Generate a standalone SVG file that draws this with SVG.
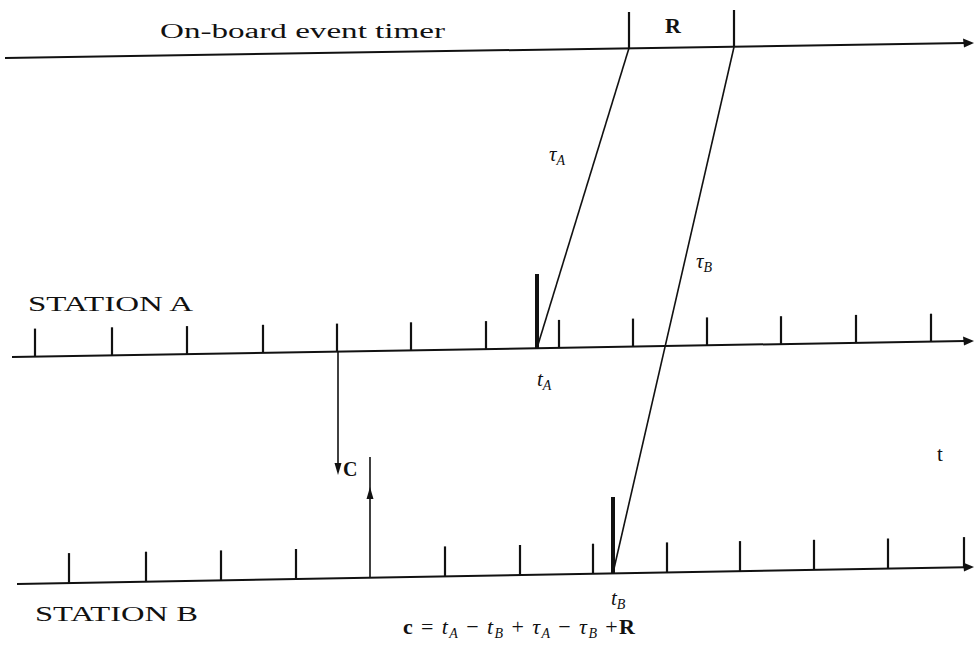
<svg xmlns="http://www.w3.org/2000/svg" width="974" height="659" viewBox="0 0 974 659">
<style>
.ln{stroke:#111;stroke-width:2;fill:none}
.tk{stroke:#111;stroke-width:2.2}
.thk{stroke:#111;stroke-width:4}
.dg{stroke:#111;stroke-width:1.6}
.lbl{fill:#111}
.it{font-style:italic}
.ah{fill:#111}
</style>
<rect width="974" height="659" fill="#fff"/>
<g id="connectors">
<line class="ln" x1="5" y1="58" x2="966" y2="43"/>
<polygon class="ah" points="974,43 963,38.5 964,47.5"/>
<line class="tk" x1="629" y1="12" x2="629" y2="48"/>
<line class="tk" x1="734" y1="10" x2="734" y2="47"/>
<line class="dg" x1="629" y1="48" x2="537" y2="348"/>
<line class="dg" x1="734" y1="47" x2="613" y2="573"/>
<line class="dg" x1="338" y1="351" x2="338" y2="468"/>
<polygon class="ah" points="338,475 334.5,463 341.5,463"/>
<line class="dg" x1="370" y1="457" x2="370" y2="578"/>
<polygon class="ah" points="370,487 366.5,499 373.5,499"/>
</g>
<g font-family="Liberation Serif, DejaVu Serif, serif">
<g id="onboard">
<text class="lbl" x="160" y="38" font-size="20" textLength="285" lengthAdjust="spacingAndGlyphs">On-board event timer</text>
<text class="lbl" x="665" y="33" font-size="22" font-weight="bold">R</text>
</g>
<g id="stationA">
<line class="ln" x1="12" y1="357" x2="965" y2="341"/>
<polygon class="ah" points="974,341 963,336.5 964,345.5"/>
<g class="tk">
<line x1="35" y1="356.6" x2="35" y2="328.6"/>
<line x1="112" y1="355.3" x2="112" y2="327.3"/>
<line x1="187" y1="354.1" x2="187" y2="326.1"/>
<line x1="263" y1="352.8" x2="263" y2="324.8"/>
<line x1="337" y1="351.6" x2="337" y2="323.6"/>
<line x1="411" y1="350.3" x2="411" y2="322.3"/>
<line x1="486" y1="349.1" x2="486" y2="321.1"/>
<line x1="559" y1="347.9" x2="559" y2="319.9"/>
<line x1="633" y1="346.6" x2="633" y2="318.6"/>
<line x1="707" y1="345.4" x2="707" y2="317.4"/>
<line x1="781" y1="344.2" x2="781" y2="316.2"/>
<line x1="856" y1="342.9" x2="856" y2="314.9"/>
<line x1="931" y1="341.7" x2="931" y2="313.7"/>
</g>
<line class="thk" x1="537" y1="274" x2="537" y2="348"/>
<text class="lbl" x="28" y="311" font-size="22" textLength="165" lengthAdjust="spacingAndGlyphs">STATION A</text>
<text class="lbl it" x="537" y="386" font-size="21">t<tspan font-size="14" dy="4">A</tspan></text>
</g>
<g id="stationB">
<line class="ln" x1="17" y1="584" x2="965" y2="567.2"/>
<polygon class="ah" points="974,567 963,562.5 964,571.5"/>
<g class="tk">
<line x1="69" y1="583.1" x2="69" y2="553.1"/>
<line x1="146" y1="581.7" x2="146" y2="551.7"/>
<line x1="221" y1="580.4" x2="221" y2="550.4"/>
<line x1="296" y1="579" x2="296" y2="549"/>
<line x1="445" y1="576.4" x2="445" y2="546.4"/>
<line x1="520" y1="575" x2="520" y2="545"/>
<line x1="593" y1="573.7" x2="593" y2="543.7"/>
<line x1="667" y1="572.4" x2="667" y2="542.4"/>
<line x1="740" y1="571.1" x2="740" y2="541.1"/>
<line x1="814" y1="569.8" x2="814" y2="539.8"/>
<line x1="888" y1="568.5" x2="888" y2="538.5"/>
<line x1="964" y1="567.1" x2="964" y2="537.1"/>
</g>
<line class="thk" x1="613" y1="497" x2="613" y2="574"/>
<text class="lbl" x="35" y="621" font-size="22" textLength="163" lengthAdjust="spacingAndGlyphs">STATION B</text>
<text class="lbl it" x="611" y="605" font-size="21">t<tspan font-size="14" dy="4">B</tspan></text>
</g>
<g id="labels">
<text class="lbl it" x="549" y="161" font-size="21">τ<tspan font-size="14" dy="4">A</tspan></text>
<text class="lbl it" x="696" y="268" font-size="21">τ<tspan font-size="14" dy="4">B</tspan></text>
<text class="lbl" x="343" y="476" font-size="20" font-weight="bold">C</text>
<text class="lbl" x="937" y="461" font-size="21">t</text>
<text class="lbl" x="403" y="634" font-size="22" textLength="232" lengthAdjust="spacing"><tspan font-weight="bold">c</tspan> = <tspan class="it">t</tspan><tspan class="it" font-size="14" dy="4">A</tspan><tspan dy="-4"> − </tspan><tspan class="it">t</tspan><tspan class="it" font-size="14" dy="4">B</tspan><tspan dy="-4"> + </tspan><tspan class="it">τ</tspan><tspan class="it" font-size="14" dy="4">A</tspan><tspan dy="-4"> − </tspan><tspan class="it">τ</tspan><tspan class="it" font-size="14" dy="4">B</tspan><tspan dy="-4"> +</tspan><tspan font-weight="bold">R</tspan></text>
</g>
</g>
</svg>
